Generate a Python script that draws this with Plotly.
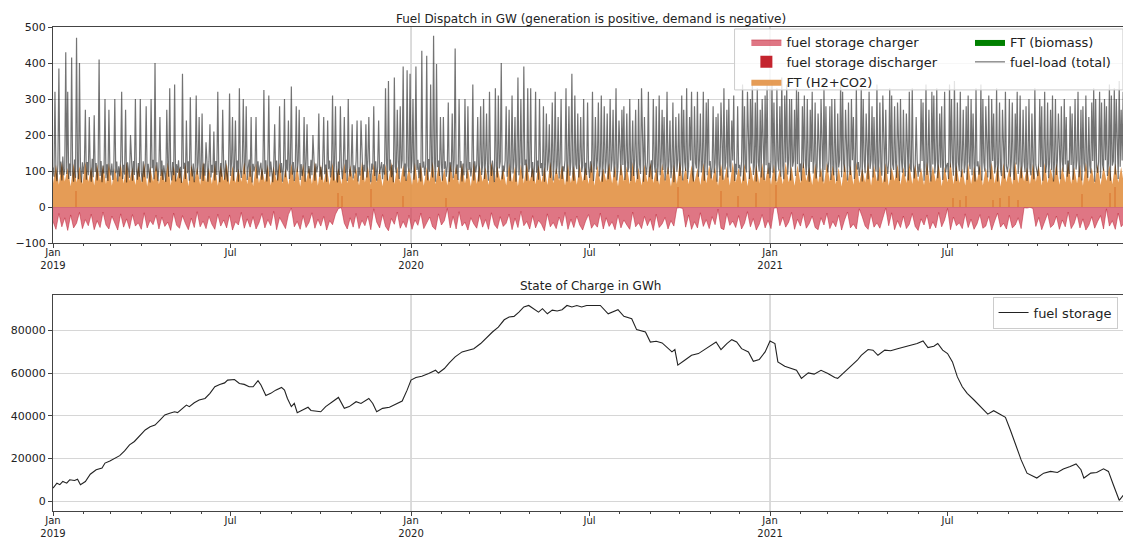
import pandas as pd
import plotly.graph_objects as go

START = "2019-01-01"

# fuel-load (total) in GW, one value per day, one row per month (2019-01 .. 2021-12)
fuel_load = [
    110, 84, 320, 96, 72, 118, 385, 90, 126, 74, 140, 88, 105, 430, 92, 320, 78, 121, 86, 415, 99, 70, 132, 81, 470, 104, 77, 400, 115, 68, 124,
    92, 118, 270, 76, 125, 88, 250, 101, 70, 134, 83, 255, 97, 122, 74, 110, 410, 86, 128, 69, 115, 93, 300, 80, 119, 72, 270, 106,
    88, 121, 75, 109, 300, 94, 126, 71, 113, 85, 130, 320, 78, 117, 90, 270, 68, 124, 97, 81, 200, 112, 73, 128, 89, 300, 104, 76, 122, 84, 300,
    96, 70, 127, 83, 115, 280, 79, 120, 92, 68, 300, 108, 131, 77, 400, 99, 124, 72, 111, 250, 86, 129, 75, 116, 91, 70, 270, 118, 84, 330,
    102, 74, 125, 88, 340, 71, 119, 95, 130, 80, 112, 67, 370, 106, 123, 78, 240, 94, 127, 73, 305, 110, 85, 121, 69, 116, 310, 90, 124, 250, 77,
    98, 260, 72, 121, 87, 180, 113, 70, 126, 230, 82, 117, 95, 210, 74, 128, 89, 320, 105, 69, 122, 84, 270, 111, 76, 130, 93, 71, 119, 315,
    86, 124, 250, 73, 112, 240, 97, 129, 70, 330, 104, 81, 126, 300, 91, 118, 280, 75, 109, 132, 84, 250, 68, 120, 99, 115, 250, 79, 127, 88, 110,
    123, 76, 108, 325, 92, 130, 71, 117, 310, 85, 126, 98, 69, 114, 230, 88, 129, 74, 107, 280, 95, 122, 70, 116, 300, 83, 131, 101, 240, 78, 119,
    335, 90, 125, 72, 111, 280, 97, 128, 270, 75, 119, 86, 106, 250, 70, 124, 230, 93, 114, 79, 131, 88, 200, 103, 73, 121, 96, 117, 260, 84,
    112, 76, 127, 250, 91, 118, 70, 240, 105, 129, 82, 115, 310, 74, 121, 280, 97, 68, 126, 89, 280, 110, 77, 123, 250, 94, 131, 72, 300, 108, 85,
    120, 230, 79, 116, 93, 128, 240, 71, 110, 87, 240, 124, 75, 117, 99, 230, 82, 130, 250, 96, 69, 121, 104, 280, 86, 127, 73, 113, 240, 92,
    108, 125, 77, 119, 90, 330, 128, 74, 350, 101, 132, 83, 117, 69, 360, 112, 94, 270, 126, 78, 280, 107, 130, 390, 85, 121, 72, 380, 115, 97, 370,
    94, 128, 300, 76, 117, 390, 103, 131, 80, 122, 71, 434, 109, 126, 87, 118, 420, 74, 133, 98, 340, 115, 82, 476, 124, 70, 397, 111, 129, 86, 250,
    119, 73, 250, 106, 127, 84, 115, 290, 70, 124, 97, 260, 80, 130, 440, 92, 118, 75, 300, 109, 128, 71, 121, 88, 300, 113, 79, 280, 102,
    125, 85, 112, 340, 74, 127, 96, 118, 250, 71, 123, 280, 89, 116, 300, 78, 131, 260, 100, 73, 320, 120, 86, 129, 94, 69, 330, 114, 82, 310, 107,
    126, 400, 77, 115, 98, 130, 280, 84, 121, 270, 72, 110, 310, 93, 127, 250, 70, 118, 360, 88, 124, 300, 105, 79, 390, 116, 132, 73, 330, 97,
    111, 330, 83, 125, 72, 117, 320, 95, 129, 76, 300, 108, 122, 86, 280, 70, 119, 260, 101, 127, 230, 81, 114, 290, 74, 128, 320, 92, 116, 250, 79,
    124, 300, 78, 113, 99, 130, 330, 71, 120, 280, 87, 126, 370, 94, 73, 310, 118, 105, 260, 82, 131, 250, 97, 115, 300, 75, 123, 89, 290, 110,
    81, 127, 96, 320, 72, 118, 250, 104, 129, 290, 85, 114, 310, 70, 122, 280, 93, 128, 260, 77, 116, 300, 99, 131, 270, 83, 120, 330, 74, 112, 240,
    126, 88, 270, 117, 280, 75, 129, 260, 97, 110, 300, 72, 123, 240, 86, 131, 270, 101, 78, 300, 119, 92, 330, 127, 70, 250, 114, 89, 125, 320, 83,
    108, 130, 77, 300, 121, 95, 280, 72, 116, 310, 88, 127, 270, 103, 250, 74, 119, 320, 91, 128, 240, 80, 112, 290, 69, 124, 250, 98, 131, 260,
    86, 119, 310, 74, 270, 125, 100, 330, 78, 113, 250, 129, 320, 91, 71, 280, 122, 107, 320, 84, 130, 260, 96, 117, 320, 73, 126, 290, 88, 300, 115,
    128, 79, 111, 280, 94, 123, 250, 70, 260, 118, 87, 290, 131, 76, 330, 104, 125, 270, 82, 300, 114, 97, 240, 129, 310, 72, 120, 90, 280, 108,
    117, 85, 127, 340, 73, 280, 110, 96, 320, 130, 78, 300, 121, 350, 89, 114, 290, 71, 330, 125, 99, 270, 82, 300, 128, 75, 310, 116, 340, 92, 123,
    80, 126, 350, 95, 290, 118, 72, 330, 129, 101, 280, 84, 360, 115, 77, 310, 124, 340, 90, 131, 300, 74, 300, 112, 127, 270, 86, 330, 119, 320, 97,
    121, 73, 280, 108, 310, 128, 88, 300, 116, 70, 270, 125, 320, 93, 130, 290, 79, 112, 260, 126, 84, 300, 118, 71, 330, 103, 280, 127,
    96, 129, 280, 75, 300, 117, 88, 300, 124, 72, 260, 110, 131, 350, 83, 320, 120, 97, 270, 127, 74, 290, 115, 89, 300, 130, 250, 78, 118, 330, 104,
    125, 86, 113, 330, 71, 300, 128, 94, 260, 119, 77, 320, 106, 130, 280, 82, 250, 122, 99, 340, 73, 127, 290, 111, 87, 310, 124, 70, 270, 116,
    92, 129, 330, 76, 310, 118, 103, 280, 126, 81, 290, 114, 72, 300, 130, 95, 270, 121, 85, 260, 127, 74, 320, 110, 98, 330, 123, 79, 116, 250, 131,
    84, 120, 97, 300, 128, 290, 73, 114, 340, 89, 126, 270, 105, 71, 320, 118, 310, 93, 130, 330, 80, 124, 260, 109, 280, 75, 127, 320, 96, 115,
    122, 78, 340, 110, 300, 129, 87, 350, 117, 72, 290, 125, 100, 320, 83, 131, 270, 94, 119, 280, 76, 310, 126, 105, 300, 88, 260, 121, 71, 330, 113,
    127, 90, 116, 340, 74, 300, 124, 99, 280, 130, 82, 310, 112, 77, 300, 128, 260, 93, 119, 330, 71, 125, 290, 106, 86, 270, 131, 79, 320, 114, 97,
    121, 300, 84, 127, 290, 103, 75, 260, 118, 320, 92, 129, 310, 80, 115, 270, 126, 97, 280, 72, 123, 300, 108, 88, 260, 130, 77, 330, 117, 101,
    86, 124, 300, 111, 280, 73, 128, 320, 95, 119, 290, 80, 126, 270, 102, 310, 71, 123, 300, 89, 130, 260, 114, 77, 280, 127, 98, 300, 118, 250, 84,
    129, 92, 280, 117, 260, 76, 125, 300, 104, 131, 320, 83, 113, 270, 74, 280, 122, 99, 310, 127, 81, 250, 116, 93, 290, 128, 330, 70, 300, 110,
    95, 126, 320, 79, 290, 118, 101, 300, 130, 280, 86, 121, 340, 73, 310, 115, 127, 330, 90, 300, 124, 78, 350, 112, 270, 129, 320, 84, 117, 330, 97,
]

# FT (H2+CO2) generation in GW, one value every 3 days
ft_h2co2 = [
    66, 118, 62, 124, 71, 109, 58, 121, 68, 114, 63, 126,
    70, 111, 60, 119, 73, 116, 64, 123, 59, 108, 69, 120,
    65, 125, 72, 110, 61, 117, 67, 122, 57, 113, 70, 119,
    63, 107, 69, 124, 60, 115, 74, 111, 66, 121, 58, 118,
    71, 112, 62, 126, 68, 109, 64, 120, 59, 116, 72, 123,
    61, 114, 67, 108, 70, 125, 63, 117, 58, 122, 66, 110,
    69, 119, 60, 113, 72, 124, 65, 107, 62, 121, 68, 115,
    57, 120, 71, 111, 64, 126, 59, 118, 67, 112, 61, 123,
    70, 109, 63, 122, 66, 116, 73, 110, 60, 125, 68, 114,
    62, 121, 69, 108, 58, 119, 71, 124, 64, 113, 67, 117,
    72, 110, 61, 123, 65, 118, 59, 112, 70, 126, 63, 116,
    68, 107, 60, 120, 74, 115, 62, 121, 66, 109, 58, 124,
    64, 117, 70, 111, 61, 125, 67, 114, 72, 108, 60, 122,
    69, 113, 58, 119, 65, 123, 71, 110, 63, 118, 68, 112,
    61, 126, 66, 109, 73, 116, 60, 121, 67, 114, 62, 119,
    70, 111, 64, 124, 59, 117, 68, 108, 72, 122, 65, 115,
    58, 120, 71, 113, 63, 125, 66, 110, 60, 118, 69, 123,
    67, 109, 62, 121, 70, 114, 57, 119, 64, 126, 71, 112,
    63, 116, 69, 108, 61, 123, 66, 117, 73, 111, 59, 120,
    72, 114, 60, 125, 68, 110, 64, 121, 58, 115, 70, 118,
    65, 122, 71, 112, 62, 119, 67, 107, 63, 124, 69, 113,
    59, 118, 66, 126, 72, 111, 61, 120, 68, 109, 64, 123,
    70, 115, 63, 110, 57, 121, 69, 116, 62, 125, 66, 108,
    68, 124, 60, 117, 71, 113, 65, 122, 59, 110, 72, 119,
    62, 111, 67, 123, 64, 118, 70, 109, 61, 126, 66, 114,
    71, 120, 58, 112, 69, 125, 63, 117, 67, 108, 60, 121,
    64, 113, 72, 119, 60, 110, 68, 124, 65, 116, 57, 122,
    69, 109, 62, 126, 66, 115, 71, 111, 63, 120, 70, 117,
    60, 123, 67, 108, 73, 121, 62, 114, 68, 125, 64, 112,
    66, 118, 59, 124, 70, 110, 65, 119, 61, 113, 72, 116,
    63, 121, 68, 111, 60, 125,
]

# fuel storage charger (demand, negative) in GW, one value every 3 days
fuel_storage_charger = [
    -40, -62, -18, -55, -30, -65, -22, -58, -45, -15, -60, -35,
    -52, -20, -63, -38, -57, -14, -50, -61, -25, -47, -64, -19,
    -56, -33, -60, -21, -53, -44, -62, -16, -58, -37, -49, -23,
    -61, -28, -54, -42, -65, -17, -51, -59, -24, -46, -63, -31,
    -57, -13, -55, -39, -60, -26, -48, -62, -20, -53, -36, -58,
    -22, -64, -41, -50, -15, -59, -33, -56, -27, -61, -44, -18,
    -58, -35, -52, -12, -63, -29, -47, -60, -21, -3, -55, -40,
    -62, -24, -57, -43, -16, -59, -34, -53, -26, -64, -38, -49,
    -20, -4, -2, -45, -61, -30, -56, -18, -60, -37, -52, -25,
    -63, -5, -42, -58, -21, -54, -66, -32, -48, -14, -59, -40,
    -57, -23, -62, -36, -51, -17, -60, -44, -28, -55, -63, -19,
    -50, -38, -4, -58, -26, -61, -13, -53, -42, -64, -30, -47,
    -59, -22, -56, -35, -62, -16, -49, -60, -27, -54, -45, -20,
    -63, -31, -57, -12, -52, -40, -61, -24, -58, -37, -48, -66,
    -19, -55, -43, -60, -28, -53, -15, -62, -34, -57, -25, -50,
    -64, -39, -21, -59, -46, -56, -17, -61, -30, -54, -41, -63,
    -23, -58, -36, -50, -62, -14, -55, -44, -60, -26, -52, -33,
    -65, -20, -57, -47, -29, -61, -38, -53, -3, -2, -4, -56,
    -22, -62, -41, -58, -16, -54, -35, -60, -27, -49, -6, -59,
    -63, -18, -51, -39, -57, -24, -61, -45, -13, -55, -32, -64,
    -48, -21, -58, -37, -60, -3, -2, -52, -28, -56, -42, -15,
    -62, -34, -53, -19, -59, -46, -25, -57, -63, -30, -50, -17,
    -60, -40, -55, -23, -64, -36, -14, -58, -47, -61, -5, -27,
    -53, -62, -20, -56, -44, -59, -31, -3, -52, -16, -63, -38,
    -57, -25, -60, -48, -18, -54, -65, -33, -50, -22, -61, -41,
    -58, -15, -55, -36, -4, -63, -28, -52, -44, -60, -19, -57,
    -34, -62, -47, -21, -59, -53, -26, -64, -39, -17, -56, -45,
    -61, -23, -58, -50, -30, -60, -2, -3, -1, -4, -54, -29,
    -63, -42, -18, -57, -49, -25, -62, -36, -55, -14, -60, -46,
    -20, -58, -33, -64, -51, -27, -59, -40, -24, -61, -5, -53,
    -38, -62, -17, -55, -45, -60,
]

# fuel storage discharger: the few days where it shows up (day offset from 2019-01-01, GW)
discharger_days = [24, 291, 295, 324, 357, 401, 637, 681, 698, 717, 737, 918, 925, 931, 958, 966, 975, 984, 1049, 1078, 1083]
discharger_gw = [45, 40, 30, 50, 30, 25, 55, 45, 30, 40, 60, 25, 20, 30, 20, 25, 30, 20, 35, 40, 55]

ft_biomass = [0, 0]

# state of charge of the fuel storage (day offset from 2019-01-01, GWh)
soc_days = [
    0, 4, 7, 10, 14, 17, 22, 25, 28, 33, 38, 44, 50, 53, 58, 63, 68, 73, 78, 83, 88, 94, 99, 104, 109,
    114, 119, 124, 127, 132, 136, 139, 144, 149, 155, 160, 165, 170, 175, 178, 182, 185, 190, 195, 200,
    204, 209, 212, 217, 222, 227, 233, 236, 239, 243, 246, 249, 254, 260, 263, 270,
    273, 278, 285, 291, 297, 302, 309, 314, 322, 326, 330, 336, 343, 349, 356, 361, 365, 370, 376, 383,
    390, 393, 399, 404, 410, 417, 424, 429, 436, 441, 448, 454, 460, 465, 470, 475, 480, 485, 490, 495,
    499, 504, 509, 514, 519, 524, 529, 534, 539, 544,
    551, 558, 566, 576, 582, 590, 595, 604, 609, 615, 621, 626, 631, 634, 637, 644, 651, 658, 663, 670,
    676, 681, 687, 692, 697, 702, 709, 714, 720, 726, 731, 736, 739, 746, 753, 758, 763, 770, 776, 783,
    790, 797, 800, 807, 814, 820,
    824, 831, 836, 841, 848, 854, 861, 868, 875, 881, 887, 892, 898, 902, 907, 912, 917, 922, 927, 932,
    939, 946, 953, 959, 966, 971, 976, 981, 987, 993, 1000, 1003, 1010, 1017, 1024, 1030, 1037, 1043,
    1048, 1051, 1058, 1064, 1071, 1076, 1081, 1087, 1093,
]
soc_gwh = [
    6200, 8500, 7800, 9300, 8500, 10100, 9800, 10400, 7800, 9300, 12700, 14800, 15600, 17900, 18900, 20200, 21400, 23600, 26400, 28000, 30300, 33400, 34900, 35700, 38000,
    40400, 41200, 41900, 41500, 43500, 45000, 44300, 46100, 47400, 48100, 50500, 53600, 54700, 55400, 56700, 56700, 57000, 55100, 54700, 53600,
    53600, 56400, 54400, 49500, 50500, 52000, 53300, 52000, 48100, 44300, 45800, 41500, 42700, 44000, 42500, 41900,
    41900, 44300, 46600, 48600, 43500, 44300, 46600, 45800, 48100, 45800, 41900, 43500, 44000, 45300, 46900, 52000, 56700, 57900, 58500, 59800,
    61300, 60000, 62100, 64800, 67600, 69900, 70700, 71400, 73800, 76100, 79200, 81500, 84900, 86200, 86500, 88500, 90900, 91600, 90100, 88500,
    90100, 87700, 89400, 89000, 89600, 91600, 90900, 91600, 90900, 91600,
    91600, 91600, 87700, 89600, 86500, 85400, 80300, 79200, 74500, 74900, 74100, 72200, 69900, 71000, 63700, 66000, 68300, 69100, 70700, 73000,
    74500, 71000, 73800, 75600, 74500, 71400, 69900, 65500, 66300, 69900, 75000, 73800, 65200, 63200, 62100, 61300, 57500, 60100, 59500, 61300,
    59800, 57900, 57500, 60600, 63700, 66000,
    68300, 71000, 70700, 68300, 70700, 70400, 71400, 72200, 73000, 73800, 75000, 71900, 72500, 73800, 70700, 69100, 65200, 58200, 53600, 50500,
    47400, 44300, 40800, 42400, 40400, 39300, 33400, 27200, 19400, 13200, 11600, 10900, 13200, 14000, 13500, 15100, 16300, 17500,
    14800, 10900, 13200, 13500, 15200, 14000, 7800, 500, 3900,
]

tick_dates = ["2019-01-01", "2019-07-01", "2020-01-01", "2020-07-01", "2021-01-01", "2021-07-01"]
tick_text = ["Jan<br>2019", "Jul", "Jan<br>2020", "Jul", "Jan<br>2021", "Jul"]

load_x = pd.date_range(START, periods=len(fuel_load), freq="D")
ft_x = pd.date_range(START, periods=len(ft_h2co2), freq="3D")
charger_x = pd.date_range(START, periods=len(fuel_storage_charger), freq="3D")
dis_x = pd.Timestamp(START) + pd.to_timedelta(discharger_days, unit="D")
soc_x = pd.Timestamp(START) + pd.to_timedelta(soc_days, unit="D")

fig = go.Figure()

fig.add_trace(go.Scatter(
    x=charger_x, y=fuel_storage_charger, name="fuel storage charger",
    mode="lines", line=dict(width=0.6, color="rgba(185,25,45,0.8)"), fill="tozeroy",
    fillcolor="rgba(210,60,80,0.7)", legend="legend", legendrank=1,
    xaxis="x", yaxis="y",
))
fig.add_trace(go.Scatter(
    x=ft_x, y=ft_h2co2, name="FT (H2+CO2)",
    mode="lines", line=dict(width=0, color="#df8a3d"), fill="tozeroy",
    fillcolor="rgba(226,145,68,0.9)", legend="legend", legendrank=3,
    xaxis="x", yaxis="y",
))
fig.add_trace(go.Bar(
    x=dis_x, y=discharger_gw, name="fuel storage discharger",
    marker=dict(color="#c4242e", line=dict(width=0)), width=86400000 * 1.2,
    legend="legend", legendrank=2, xaxis="x", yaxis="y",
))
fig.add_trace(go.Scatter(
    x=[load_x[0], load_x[-1]], y=ft_biomass, name="FT (biomass)",
    mode="lines", line=dict(width=0, color="green"), fill="tozeroy",
    fillcolor="green", legend="legend2", legendrank=1,
    xaxis="x", yaxis="y",
))
fig.add_trace(go.Scatter(
    x=load_x, y=fuel_load, name="fuel-load (total)",
    mode="lines", line=dict(width=1.2, color="rgba(0,0,0,0.55)"),
    legend="legend2", legendrank=2, xaxis="x", yaxis="y",
))
fig.add_trace(go.Scatter(
    x=soc_x, y=soc_gwh, name="fuel storage",
    mode="lines", line=dict(width=1.1, color="#222222"),
    legend="legend3", xaxis="x2", yaxis="y2",
))

frame = dict(showline=True, linecolor="#444444", linewidth=1, mirror=True,
             ticks="outside", tickcolor="#444444", automargin=False)
xcommon = dict(
    type="date", range=["2019-01-01", "2021-12-31 23:00"],
    tickmode="array", tickvals=tick_dates, ticktext=tick_text,
    showgrid=False, zeroline=False, ticklen=4, tickfont=dict(size=10), ticklabelstandoff=-4,
    minor=dict(ticks="outside", ticklen=2, tickcolor="#444444", dtick="M1", tick0="2019-01-01", showgrid=False),
    **frame,
)

# the page body adds an 8px offset, so the figure is 8px smaller than the window
fig.update_layout(
    width=1123, height=531,
    margin=dict(l=45, r=3, t=19, b=28),
    paper_bgcolor="white", plot_bgcolor="white",
    font=dict(family="DejaVu Sans", size=11, color="#222222"),
    bargap=0,
    xaxis=dict(domain=[0, 1], anchor="y", **xcommon),
    yaxis=dict(domain=[0.5537, 1], anchor="x", range=[-100, 500], dtick=100, ticklen=4,
               showgrid=True, gridcolor="#d6d6d6", zeroline=False, **frame),
    xaxis2=dict(domain=[0, 1], anchor="y2", **xcommon),
    yaxis2=dict(domain=[0, 0.4463], anchor="x2", range=[-4500, 96500], ticklen=4,
                tickmode="array", tickvals=[0, 20000, 40000, 60000, 80000], tickformat="d",
                showgrid=True, gridcolor="#d6d6d6", zeroline=False, **frame),
    legend=dict(x=0.645, y=1.0, xanchor="left", yanchor="top", bgcolor="rgba(0,0,0,0)",
                font=dict(size=13), itemwidth=30, tracegroupgap=0),
    legend2=dict(x=0.853, y=1.0, xanchor="left", yanchor="top", bgcolor="rgba(0,0,0,0)",
                 font=dict(size=13), itemwidth=30, tracegroupgap=0),
    legend3=dict(x=0.874, y=0.443, xanchor="left", yanchor="top", bgcolor="white",
                 bordercolor="#cccccc", borderwidth=1, font=dict(size=13), itemwidth=30),
    showlegend=True,
    annotations=[
        dict(text="Fuel Dispatch in GW (generation is positive, demand is negative)",
             xref="paper", yref="paper", x=0.5, y=1.0, yshift=-1, xanchor="center", yanchor="bottom",
             showarrow=False, font=dict(size=12)),
        dict(text="State of Charge in GWh",
             xref="paper", yref="paper", x=0.5, y=0.4463, yshift=0, xanchor="center", yanchor="bottom",
             showarrow=False, font=dict(size=12)),
    ],
    shapes=[
        dict(type="rect", xref="paper", yref="paper", x0=0.634, x1=0.9953, y0=0.87, y1=0.9959,
             fillcolor="rgba(255,255,255,0.8)", line=dict(color="#cccccc", width=1), layer="above"),
    ],
)

# year gridlines (only the major January ticks carry a vertical grid)
for d in ["2020-01-01", "2021-01-01"]:
    fig.add_shape(type="line", xref="x", yref="y domain", x0=d, x1=d, y0=0, y1=1,
                  line=dict(color="#b8b8b8", width=1), layer="below")
    fig.add_shape(type="line", xref="x2", yref="y2 domain", x0=d, x1=d, y0=0, y1=1,
                  line=dict(color="#b8b8b8", width=1), layer="below")

fig.write_html("out.html")
